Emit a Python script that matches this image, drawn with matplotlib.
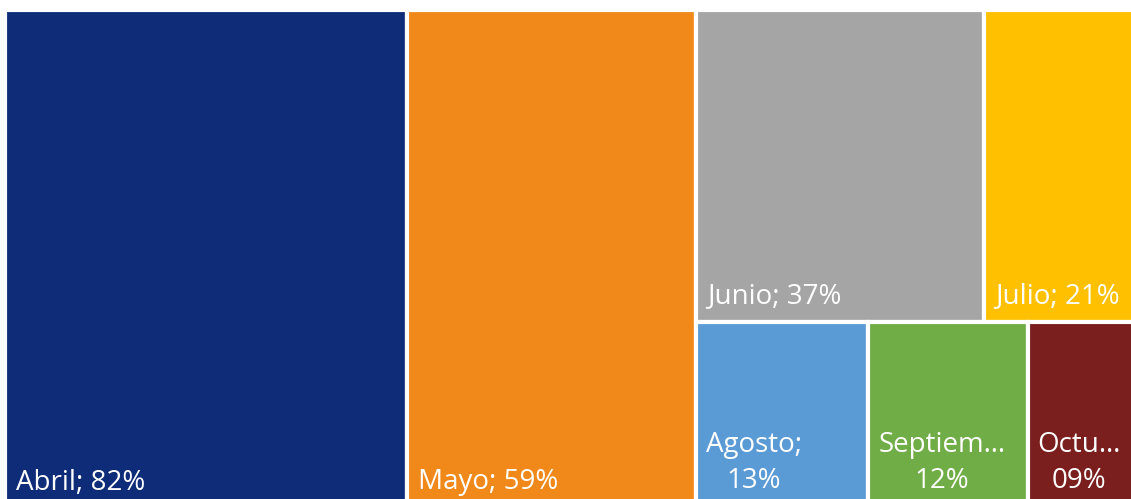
import matplotlib.pyplot as plt
from matplotlib.patches import Rectangle

months = ["Abril", "Mayo", "Junio", "Julio", "Agosto", "Septiembre", "Octubre"]
values = [82, 59, 37, 21, 13, 12, 9]
labels = ["Abril; 82%", "Mayo; 59%", "Junio; 37%", "Julio; 21%",
          "Agosto;\n13%", "Septiem…\n12%", "Octu…\n09%"]
colors = ["#0F2C78", "#F0891A", "#A5A5A5", "#FFC000", "#5B9BD5", "#70AD47", "#7A1F1D"]

plt.rcParams['font.family'] = ['Open Sans', 'DejaVu Sans']


def layout(vals, W, H):
    # fixed structure: two full-height columns, then remaining block split in two rows
    total = sum(vals)
    rects = []
    x = 0.0
    for v in vals[:2]:
        w = W * v / total
        rects.append((x, 0.0, w, H))
        x += w
    rest = total - sum(vals[:2])
    rw = W * rest / total
    top = vals[2:4]
    bot = vals[4:]
    th = H * sum(top) / rest
    xx = x
    for v in top:
        w = rw * v / sum(top)
        rects.append((xx, H - th, w, th))
        xx += w
    xx = x
    for v in bot:
        w = rw * v / sum(bot)
        rects.append((xx, 0.0, w, H - th))
        xx += w
    return rects


W, H = 1142.0, 496.0
fig = plt.figure(figsize=(11.31, 4.99), dpi=100)
ax = fig.add_axes([5 / 1131, (499 - 505.5) / 499, W / 1131, H / 499])
ax.set_xlim(0, W)
ax.set_ylim(0, H)
ax.axis('off')

for i, (x, y, w, h) in enumerate(layout(values, W, H)):
    ax.add_patch(Rectangle((x, y), w, h, facecolor=colors[i], edgecolor='white', linewidth=3))
    if i < 2:
        ax.text(x + 11, y + 16, labels[i], color='white', fontsize=20,
                ha='left', va='baseline')
    elif i < 4:
        ax.text(x + 11, y + 19, labels[i], color='white', fontsize=20,
                ha='left', va='baseline')
    else:
        ax.text(x + 10, y + 17, labels[i], color='white', fontsize=20,
                ha='left', va='baseline', multialignment='center', linespacing=1.4)

fig.savefig('out.png', dpi=100)
